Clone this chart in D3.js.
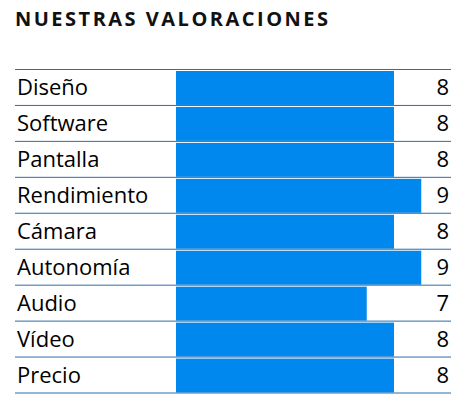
<!DOCTYPE html>
<html><head><meta charset="utf-8">
<script src="https://d3js.org/d3.v7.min.js"></script>
<style>body{margin:0;background:#fff}</style></head>
<body><svg id="c" width="466" height="400"></svg>
<script>
const categories=["Diseño","Software","Pantalla","Rendimiento","Cámara","Autonomía","Audio","Vídeo","Precio"];
const values=[8,8,8,9,8,9,7,8,8];
const svg=d3.select("#c");
const font="'Open Sans', sans-serif";
svg.append("text").attr("x",15).attr("y",26).attr("font-family",font).attr("font-weight","bold").attr("font-size",20).attr("textLength",313).attr("fill","#111").text("NUESTRAS VALORACIONES");
const y=d3.scaleBand().domain(categories).range([69.5,393]).padding(0);
const x=d3.scaleLinear().domain([0,10]).range([176,448.5]);
svg.selectAll("rect").data(categories).enter().append("rect")
 .attr("x",x(0)).attr("y",d=>y(d)+1.5).attr("height",y.bandwidth()-2)
 .attr("width",(d,i)=>x(values[i])-x(0)).attr("fill","#0088ee");
const lines=categories.map(d=>y(d)).concat([393]);
svg.selectAll("line").data(lines).enter().append("line")
 .attr("x1",15).attr("x2",451).attr("y1",d=>d).attr("y2",d=>d).attr("stroke","#2a6db0").attr("stroke-width",1);
svg.selectAll(".cat").data(categories).enter().append("text")
 .attr("x",17).attr("y",d=>y(d)+y.bandwidth()/2+8).attr("font-family",font).attr("font-size",22).attr("fill","#000").text(d=>d);
svg.selectAll(".val").data(categories).enter().append("text")
 .attr("x",449).attr("text-anchor","end").attr("y",d=>y(d)+y.bandwidth()/2+8).attr("font-family",font).attr("font-size",22).attr("fill","#000").text((d,i)=>values[i]);
</script></body></html>
